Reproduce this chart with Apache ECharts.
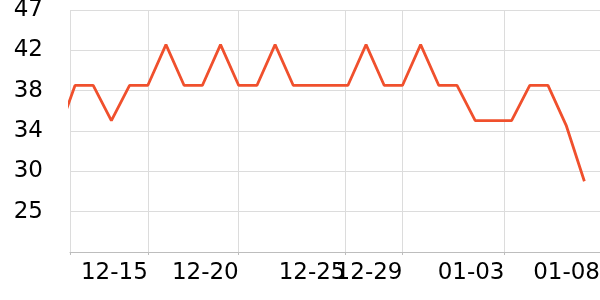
<!DOCTYPE html>
<html><head><meta charset="utf-8">
<script src="https://cdn.jsdelivr.net/npm/echarts@6/dist/echarts.min.js"></script>
<style>html,body{margin:0;padding:0;background:#fff}#c{width:600px;height:300px}</style>
</head><body><div id="c"></div>
<script>
// daily categories (index 0 = 12-10, partially outside the plot on the left)
const dates = ['12-10','12-11','12-12','12-13','12-14','12-15','12-16','12-17','12-18','12-19','12-20','12-21','12-22','12-23','12-24','12-25','12-26','12-27','12-28','12-29','12-30','12-31','01-01','01-02','01-03','01-04','01-05','01-06','01-07','01-08'];
const values = [33.3,38.7,38.7,35,38.7,38.7,43,38.7,38.7,43,38.7,38.7,43,38.7,38.7,38.7,38.7,43,38.7,38.7,43,38.7,38.7,35,35,35,38.7,38.7,34.5,28.6];
// x-axis label positions (in day-index units) and their labels
const tickPos = [0.725, 5, 10, 15.87, 19, 24.61, 29.86];
const tickLabels = ['', '12-15', '12-20', '12-25', '12-29', '01-03', '01-08'];
const xMin = 0.725, xMax = 29.86;
// y-axis range
const yMin = 21.15, yMax = 46.65, yStep = 4.25;

const seriesData = values.map((v, i) => [i, v]);
const chart = echarts.init(document.getElementById('c'), null, {renderer: 'canvas'});
chart.setOption({
  animation: false,
  backgroundColor: '#fff',
  grid: {left: 70, right: 0, top: 10, bottom: 48, containLabel: false, outerBoundsMode: 'none'},
  xAxis: {
    type: 'value',
    min: xMin, max: xMax,
    axisLine: {show: true, lineStyle: {color: '#bdbdbd', width: 1}},
    axisTick: {show: true, length: 3, customValues: tickPos.slice(0, -1), lineStyle: {color: '#bdbdbd'}},
    splitLine: {show: true, lineStyle: {color: '#dcdcdc', width: 1}},
    axisLabel: {
      customValues: tickPos,
      align: 'right', margin: 10,
      fontFamily: 'DejaVu Sans', fontSize: 23, color: '#000',
      formatter: function (v) {
        let best = 0, d = Infinity;
        tickPos.forEach((p, i) => { if (Math.abs(p - v) < d) { d = Math.abs(p - v); best = i; } });
        return tickLabels[best];
      }
    }
  },
  yAxis: {
    type: 'value',
    min: yMin, max: yMax, interval: yStep,
    axisLine: {show: false}, axisTick: {show: false},
    splitLine: {show: true, lineStyle: {color: '#dcdcdc', width: 1}},
    axisLabel: {
      showMinLabel: false, margin: 27,
      fontFamily: 'DejaVu Sans', fontSize: 23, color: '#000',
      formatter: v => String(Math.round(v))
    }
  },
  series: [{
    type: 'line', data: seriesData, showSymbol: false, clip: true,
    lineStyle: {color: '#f0502d', width: 2.8},
    itemStyle: {color: '#f0502d'}
  }]
});
</script></body></html>
